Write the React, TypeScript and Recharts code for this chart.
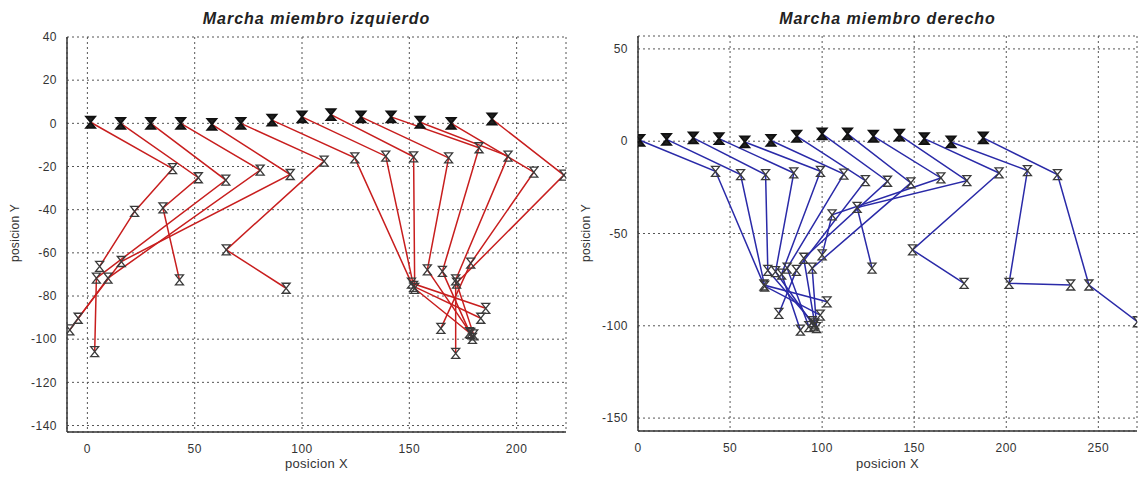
import { ScatterChart, Scatter, XAxis, YAxis, CartesianGrid } from "recharts";

// left limb: hip, knee, ankle, toe for each step
const leftHipX = [1.5, 15.5, 29.5, 43.5, 58, 71.5, 86, 100, 113.5, 127.5, 141.5, 155, 169.5, 188.5];
const leftHipY = [0.5, 0, 0, 0, -0.5, 0, 1.5, 3, 4, 3, 3, 0.5, 0, 2];
const leftKneeX = [39.7, 51.7, 64.5, 80.5, 94.5, 110.3, 124.6, 139, 152, 168.3, 182.5, 196, 208, 222];
const leftKneeY = [-21, -25.2, -26.3, -21.7, -23.7, -17.5, -16, -15.2, -15.5, -16, -11.3, -15.2, -22.6, -24];
const leftAnkleX = [22, 35.2, 4.2, 9.6, 15.8, 64.7, 151, 152, 152.5, 158.4, 165.4, 171.6, 178.6, 172];
const leftAnkleY = [-40.8, -39.2, -71.7, -71.7, -64, -58.6, -74, -75.5, -76.5, -67.9, -68.6, -72.5, -64.8, -74];
const leftToeX = [5.7, 42.9, 3.4, -8.2, -4.3, 92.6, 185.6, 183.3, 178, 178.6, 179.4, 171.6, 164.7, 180];
const leftToeY = [-66.3, -72.5, -105.8, -95.7, -90.3, -76.4, -85.7, -90.3, -97, -97.3, -99.6, -106.6, -95, -98];

// right limb
const rightHipX = [1, 15.5, 30, 44, 58, 72.2, 86.2, 100, 113.8, 127.8, 142, 155.5, 170, 187.5];
const rightHipY = [0.5, 1, 1.8, 1.4, -0.4, 0.4, 2.7, 4, 4, 2.7, 3.3, 1.4, -0.4, 1.8];
const rightKneeX = [42.1, 55.7, 69.3, 84.6, 99.1, 111.8, 123.5, 135.5, 148.2, 164.5, 178.6, 196.1, 211.5, 227.8];
const rightKneeY = [-16.3, -18.1, -18.1, -17.2, -16.3, -17.8, -21.4, -21.7, -22.6, -19.9, -21.4, -17.2, -15.9, -18.1];
const rightAnkleX = [68.4, 68.8, 70.5, 74.7, 78, 81, 86, 90, 94.6, 105.4, 119, 149.1, 201.5, 244.9];
const rightAnkleY = [-77.9, -78.5, -70, -70.7, -72, -68.8, -70, -63.4, -68.8, -39.9, -35.9, -58.9, -77, -77.9];
const rightToeX = [102.7, 99, 94.6, 95.5, 88.2, 92.8, 76.5, 96, 97, 100, 127.1, 177.1, 235, 271.2];
const rightToeY = [-87, -94.2, -97.8, -100, -102.4, -100.5, -93.3, -99, -101, -61.6, -68.8, -77, -77.9, -97.8];

const leftXTicks = [0, 50, 100, 150, 200];
const leftYTicks = [-140, -120, -100, -80, -60, -40, -20, 0, 20, 40];
const rightXTicks = [0, 50, 100, 150, 200, 250];
const rightYTicks = [-150, -100, -50, 0, 50];

type Pt = { x: number; y: number };

function buildChains(hx: number[], hy: number[], kx: number[], ky: number[], ax: number[], ay: number[], tx: number[], ty: number[]): Pt[][] {
  return hx.map((_, i) => [
    { x: hx[i], y: hy[i] },
    { x: kx[i], y: ky[i] },
    { x: ax[i], y: ay[i] },
    { x: tx[i], y: ty[i] },
  ]);
}

const leftChains = buildChains(leftHipX, leftHipY, leftKneeX, leftKneeY, leftAnkleX, leftAnkleY, leftToeX, leftToeY);
const rightChains = buildChains(rightHipX, rightHipY, rightKneeX, rightKneeY, rightAnkleX, rightAnkleY, rightToeX, rightToeY);

const font = "'Liberation Sans', Arial, sans-serif";

function NoShape() {
  return <g />;
}

function Hourglass(props: { cx?: number; cy?: number; bold?: boolean }) {
  const { cx, cy, bold } = props;
  if (cx == null || cy == null) return <g />;
  const w = bold ? 4.5 : 4;
  const h = bold ? 5.5 : 5;
  return (
    <path
      d={`M${cx - w},${cy - h}H${cx + w}L${cx - w},${cy + h}H${cx + w}Z`}
      fill={bold ? "#222" : "none"}
      stroke={bold ? "#111" : "#3a3a3a"}
      strokeWidth={bold ? 1.8 : 1.3}
    />
  );
}

interface PanelProps {
  title: string;
  chains: Pt[][];
  color: string;
  xDomain: [number, number];
  yDomain: [number, number];
  xTicks: number[];
  yTicks: number[];
  left: number;
  width: number;
  margin: { top: number; right: number; bottom: number; left: number };
  plotLeft: number;
  plotRight: number;
}

function GaitPanel({ title, chains, color, xDomain, yDomain, xTicks, yTicks, left, width, margin, plotLeft, plotRight }: PanelProps) {
  const hips = chains.map((c) => c[0]);
  const joints = chains.flatMap((c) => c.slice(1));
  const center = (plotLeft + plotRight) / 2 - left;
  return (
    <div style={{ position: "absolute", left, top: 0, width, height: 477 }}>
      <ScatterChart width={width} height={477} margin={margin}>
        <CartesianGrid stroke="#555" strokeDasharray="2 3" strokeWidth={1} />
        <XAxis
          type="number"
          dataKey="x"
          domain={xDomain}
          ticks={xTicks}
          allowDataOverflow
          height={30}
          tickLine={false}
          axisLine={{ stroke: "#333", strokeWidth: 1.5 }}
          tick={{ fill: "#333", fontSize: 12, fontFamily: font, letterSpacing: 0.5 }}
          tickMargin={6}
        />
        <YAxis
          type="number"
          dataKey="y"
          domain={yDomain}
          ticks={yTicks}
          allowDataOverflow
          width={40}
          tickLine={false}
          axisLine={{ stroke: "#333", strokeWidth: 1.5 }}
          tick={{ fill: "#333", fontSize: 12, fontFamily: font, letterSpacing: 0.5 }}
          tickMargin={4}
        />
        {chains.map((c, i) => (
          <Scatter
            key={i}
            data={c}
            line={{ stroke: color, strokeWidth: 1.5 }}
            lineType="joint"
            shape={NoShape}
            isAnimationActive={false}
          />
        ))}
        <Scatter data={joints} shape={(p: any) => <Hourglass cx={p.cx} cy={p.cy} />} isAnimationActive={false} />
        <Scatter data={hips} shape={(p: any) => <Hourglass cx={p.cx} cy={p.cy} bold />} isAnimationActive={false} />
      </ScatterChart>
      <div
        style={{
          position: "absolute",
          left: center - 150,
          width: 300,
          top: 10,
          textAlign: "center",
          fontFamily: font,
          fontWeight: 700,
          fontStyle: "italic",
          fontSize: 16,
          letterSpacing: 1,
          color: "#222",
        }}
      >
        {title}
      </div>
      <div
        style={{
          position: "absolute",
          left: center - 60,
          width: 120,
          top: 456,
          textAlign: "center",
          fontFamily: font,
          fontSize: 13,
          letterSpacing: 0.3,
          color: "#333",
        }}
      >
        posicion X
      </div>
      <div
        style={{
          position: "absolute",
          left: plotLeft - left - 112,
          width: 120,
          top: 226,
          textAlign: "center",
          fontFamily: font,
          fontSize: 12,
          letterSpacing: 0.3,
          color: "#333",
          transform: "rotate(-90deg)",
        }}
      >
        posicion Y
      </div>
    </div>
  );
}

export default function App() {
  return (
    <div style={{ position: "absolute", left: 0, top: 0, width: 1145, height: 477, background: "#fff", overflow: "hidden" }}>
      <GaitPanel
        title="Marcha miembro izquierdo"
        chains={leftChains}
        color="#c81e1e"
        xDomain={[-9.5, 223]}
        yDomain={[-143, 40]}
        xTicks={leftXTicks}
        yTicks={leftYTicks}
        left={0}
        width={575}
        margin={{ top: 37, right: 9, bottom: 15, left: 27 }}
        plotLeft={67}
        plotRight={566}
      />
      <GaitPanel
        title="Marcha miembro derecho"
        chains={rightChains}
        color="#2a2aa8"
        xDomain={[0, 271]}
        yDomain={[-157, 57]}
        xTicks={rightXTicks}
        yTicks={rightYTicks}
        left={575}
        width={570}
        margin={{ top: 36, right: 8, bottom: 16, left: 23 }}
        plotLeft={638}
        plotRight={1137}
      />
    </div>
  );
}
